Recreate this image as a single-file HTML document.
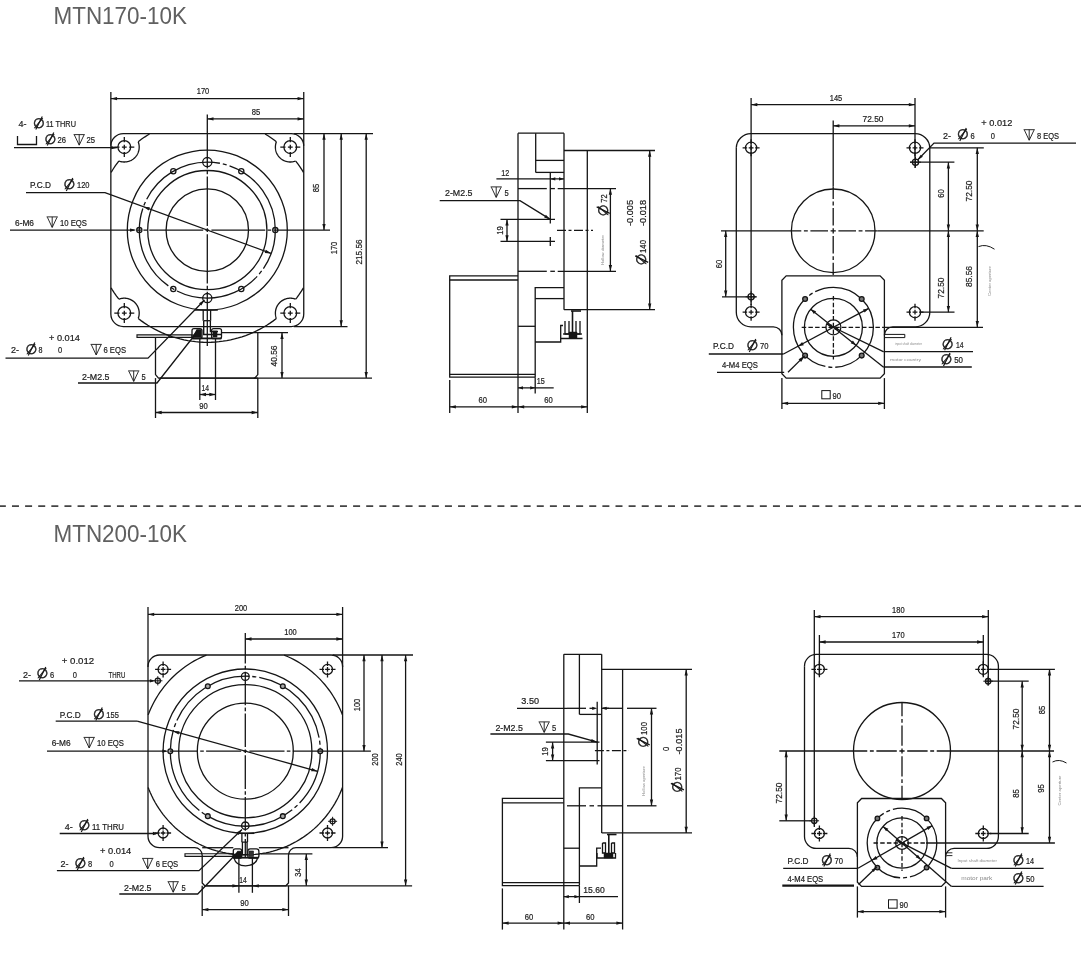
<!DOCTYPE html>
<html><head><meta charset="utf-8"><title>MTN170-10K / MTN200-10K</title>
<style>
html,body{margin:0;padding:0;background:#fff}
svg{display:block;will-change:transform;opacity:.999}
svg line,svg path,svg circle,svg polyline{stroke:#151515;stroke-width:1.3;fill:none}
svg .ah{fill:#151515;stroke:none}
svg text{stroke:none}
svg text.t{stroke:#1c1c1c}
.t{font-family:"Liberation Sans",sans-serif;font-size:9.6px;fill:#1c1c1c;stroke:#1c1c1c;stroke-width:.22px}
.s{font-family:"DejaVu Sans","Liberation Sans",sans-serif;fill:#1c1c1c}
.h{font-family:"Liberation Sans",sans-serif;font-size:24px;fill:#606060}
.g{font-family:"Liberation Sans",sans-serif;font-size:4.2px;fill:#8c8c8c}
.g2{font-family:"Liberation Sans",sans-serif;font-size:5.4px;fill:#8a8a8a}
</style></head><body>
<svg width="1081" height="966" viewBox="0 0 1081 966">
<rect x="0" y="0" width="1081" height="966" fill="#fff" stroke="none"/>
<text class="h" x="53.5" y="23.7" textLength="133.5" lengthAdjust="spacingAndGlyphs">MTN170-10K</text>
<text class="h" x="53.5" y="542.2" textLength="133.5" lengthAdjust="spacingAndGlyphs">MTN200-10K</text>
<line x1="0" y1="506.1" x2="1081" y2="506.1" style="stroke:#444;stroke-width:1.8" stroke-dasharray="7 6.12" stroke-dashoffset="1.15"/>
<path d="M123.35 133.65 H291.25 A12.5 12.5 0 0 1 303.75 146.15 V314.05 A12.5 12.5 0 0 1 291.25 326.55 H123.35 A12.5 12.5 0 0 1 110.85 314.05 V146.15 A12.5 12.5 0 0 1 123.35 133.65 Z"/>
<path d="M303.47 287.89 L301.4 291.21 L299.21 294.46 L296.91 297.62 L295.71 299.18"/>
<path d="M276.38 318.51 L273.25 320.87 L270.04 323.12 L266.76 325.25 L263.4 327.27 L259.97 329.17 L256.49 330.94 L252.94 332.6 L249.33 334.13 L245.67 335.53 L241.97 336.81 L238.23 337.95 L234.44 338.97 L230.63 339.85 L226.78 340.6 L222.92 341.21 L219.03 341.69 L215.13 342.03 L211.22 342.23 L207.3 342.3 L203.38 342.23 L199.47 342.03 L195.57 341.69 L191.68 341.21 L187.82 340.6 L183.97 339.85 L180.16 338.97 L176.37 337.95 L172.63 336.81 L168.93 335.53 L165.27 334.13 L161.66 332.6 L158.11 330.94 L154.63 329.17 L151.2 327.27 L147.84 325.25 L144.56 323.12 L141.35 320.87 L138.22 318.51"/>
<path d="M118.89 299.18 L116.53 296.05 L114.28 292.84 L112.15 289.56 L111.13 287.89"/>
<path d="M111.13 172.31 L113.2 168.99 L115.39 165.74 L117.69 162.58 L118.89 161.02"/>
<path d="M138.22 141.69 L141.35 139.33 L144.56 137.08 L147.84 134.95 L149.51 133.93"/>
<path d="M265.09 133.93 L268.41 136 L271.66 138.19 L274.82 140.49 L276.38 141.69"/>
<path d="M295.71 161.02 L298.07 164.15 L300.32 167.36 L302.45 170.64 L303.47 172.31"/>
<path d="M138.21 141.76 L138.39 142.25 L138.55 142.74 L138.69 143.24 L138.82 143.75 L138.93 144.26 L139.02 144.77 L139.09 145.28 L139.14 145.8 L139.18 146.32 L139.2 146.84 L139.2 147.23 L139.19 147.75 L139.15 148.27 L139.1 148.79 L139.04 149.3 L138.95 149.82 L138.85 150.32 L138.73 150.83 L138.59 151.33 L138.43 151.83 L138.26 152.32 L138.07 152.8 L137.86 153.28 L137.63 153.75 L137.39 154.21 L137.14 154.66 L136.87 155.11 L136.58 155.54 L136.28 155.96 L135.96 156.38 L135.63 156.78 L135.29 157.17 L134.93 157.54 L134.56 157.91 L134.17 158.26 L133.78 158.6 L133.37 158.92 L132.95 159.23 L132.52 159.52 L132.09 159.8 L131.64 160.07 L131.18 160.32 L130.71 160.55 L130.24 160.76 L129.76 160.96 L129.27 161.15 L128.78 161.31 L128.28 161.46 L127.78 161.59 L127.27 161.7 L126.76 161.8 L126.24 161.87 L125.73 161.93 L125.21 161.97 L124.69 161.99 L124.17 162 L123.65 161.99 L123.13 161.95 L122.61 161.9 L122.1 161.84 L121.58 161.75 L121.08 161.65 L120.57 161.53 L120.07 161.39 L119.57 161.23 L119.08 161.06 L118.96 161.01"/>
<circle cx="124.3" cy="147.1" r="6.4"/>
<line x1="114.3" y1="147.1" x2="134.3" y2="147.1" stroke-dasharray="5.2 2.4 4.8 2.4 5.2"/>
<line x1="124.3" y1="137.1" x2="124.3" y2="157.1" stroke-dasharray="5.2 2.4 4.8 2.4 5.2"/>
<path d="M118.96 299.19 L119.45 299.01 L119.94 298.85 L120.44 298.71 L120.95 298.58 L121.46 298.47 L121.97 298.38 L122.48 298.31 L123 298.26 L123.52 298.22 L124.04 298.2 L124.56 298.2 L125.08 298.22 L125.6 298.26 L126.12 298.31 L126.63 298.38 L127.14 298.47 L127.65 298.58 L128.16 298.71 L128.66 298.85 L129.15 299.01 L129.64 299.19 L130.12 299.38 L130.6 299.6 L131.06 299.82 L131.52 300.07 L131.97 300.33 L132.42 300.6 L132.85 300.89 L133.27 301.2 L133.68 301.52 L134.08 301.85 L134.46 302.2 L134.84 302.56 L135.2 302.94 L135.55 303.32 L135.88 303.72 L136.2 304.13 L136.51 304.55 L136.8 304.98 L137.07 305.43 L137.33 305.88 L137.58 306.34 L137.8 306.8 L138.02 307.28 L138.21 307.76 L138.39 308.25 L138.55 308.74 L138.69 309.24 L138.82 309.75 L138.93 310.26 L139.02 310.77 L139.09 311.28 L139.14 311.8 L139.18 312.32 L139.2 312.84 L139.2 313.23 L139.19 313.75 L139.15 314.27 L139.1 314.79 L139.04 315.3 L138.95 315.82 L138.85 316.32 L138.73 316.83 L138.59 317.33 L138.43 317.83 L138.26 318.32 L138.21 318.44"/>
<circle cx="124.3" cy="313.1" r="6.4"/>
<line x1="114.3" y1="313.1" x2="134.3" y2="313.1" stroke-dasharray="5.2 2.4 4.8 2.4 5.2"/>
<line x1="124.3" y1="303.1" x2="124.3" y2="323.1" stroke-dasharray="5.2 2.4 4.8 2.4 5.2"/>
<path d="M295.64 161.01 L295.15 161.19 L294.66 161.35 L294.16 161.49 L293.65 161.62 L293.14 161.73 L292.63 161.82 L292.12 161.89 L291.6 161.94 L291.08 161.98 L290.56 162 L290.04 162 L289.52 161.98 L289 161.94 L288.48 161.89 L287.97 161.82 L287.46 161.73 L286.95 161.62 L286.44 161.49 L285.94 161.35 L285.45 161.19 L284.96 161.01 L284.48 160.82 L284 160.6 L283.54 160.38 L283.08 160.13 L282.63 159.87 L282.18 159.6 L281.75 159.31 L281.33 159 L280.92 158.68 L280.52 158.35 L280.14 158 L279.76 157.64 L279.4 157.26 L279.05 156.88 L278.72 156.48 L278.4 156.07 L278.09 155.65 L277.8 155.22 L277.53 154.77 L277.27 154.32 L277.02 153.86 L276.8 153.4 L276.58 152.92 L276.39 152.44 L276.21 151.95 L276.05 151.46 L275.91 150.96 L275.78 150.45 L275.67 149.94 L275.58 149.43 L275.51 148.92 L275.46 148.4 L275.42 147.88 L275.4 147.36 L275.4 146.84 L275.42 146.32 L275.46 145.8 L275.51 145.28 L275.58 144.77 L275.67 144.26 L275.78 143.75 L275.91 143.24 L276.05 142.74 L276.21 142.25 L276.39 141.76"/>
<circle cx="290.3" cy="147.1" r="6.4"/>
<line x1="280.3" y1="147.1" x2="300.3" y2="147.1" stroke-dasharray="5.2 2.4 4.8 2.4 5.2"/>
<line x1="290.3" y1="137.1" x2="290.3" y2="157.1" stroke-dasharray="5.2 2.4 4.8 2.4 5.2"/>
<path d="M276.39 318.44 L276.21 317.95 L276.05 317.46 L275.91 316.96 L275.78 316.45 L275.67 315.94 L275.58 315.43 L275.51 314.92 L275.46 314.4 L275.42 313.88 L275.4 313.36 L275.4 312.84 L275.42 312.32 L275.46 311.8 L275.51 311.28 L275.58 310.77 L275.67 310.26 L275.78 309.75 L275.91 309.24 L276.05 308.74 L276.21 308.25 L276.39 307.76 L276.58 307.28 L276.8 306.8 L277.02 306.34 L277.27 305.88 L277.53 305.43 L277.8 304.98 L278.09 304.55 L278.4 304.13 L278.72 303.72 L279.05 303.32 L279.4 302.94 L279.76 302.56 L280.14 302.2 L280.52 301.85 L280.92 301.52 L281.33 301.2 L281.75 300.89 L282.18 300.6 L282.63 300.33 L283.08 300.07 L283.54 299.82 L284 299.6 L284.48 299.38 L284.96 299.19 L285.45 299.01 L285.94 298.85 L286.44 298.71 L286.95 298.58 L287.46 298.47 L287.97 298.38 L288.48 298.31 L289 298.26 L289.52 298.22 L290.04 298.2 L290.56 298.2 L291.08 298.22 L291.6 298.26 L292.12 298.31 L292.63 298.38 L293.14 298.47 L293.65 298.58 L294.16 298.71 L294.66 298.85 L295.15 299.01 L295.64 299.19"/>
<circle cx="290.3" cy="313.1" r="6.4"/>
<line x1="280.3" y1="313.1" x2="300.3" y2="313.1" stroke-dasharray="5.2 2.4 4.8 2.4 5.2"/>
<line x1="290.3" y1="303.1" x2="290.3" y2="323.1" stroke-dasharray="5.2 2.4 4.8 2.4 5.2"/>
<circle cx="207.3" cy="230.1" r="80"/>
<path d="M275.3 230.1 A68 68 0 1 0 139.3 230.1 A68 68 0 1 0 275.3 230.1" stroke-dasharray="87.3 3 4 3" stroke-dashoffset="3.3"/>
<circle cx="207.3" cy="230.1" r="59.6"/>
<circle cx="207.3" cy="230.1" r="41.2"/>
<circle cx="275.3" cy="230.1" r="2.6"/>
<circle cx="241.3" cy="288.99" r="2.6"/>
<circle cx="173.3" cy="288.99" r="2.6"/>
<circle cx="139.3" cy="230.1" r="2.6"/>
<circle cx="173.3" cy="171.21" r="2.6"/>
<circle cx="241.3" cy="171.21" r="2.6"/>
<circle cx="207.3" cy="162.1" r="4.6"/>
<circle cx="207.3" cy="298.1" r="4.6"/>
<line x1="207.3" y1="114.5" x2="207.3" y2="346" stroke-dasharray="53.9 2.3 3.6 2.3 49.4 2.3 3.6 2.3 49.3 2.3 3.6 2.3 54.3 0"/>
<line x1="137" y1="230.1" x2="330" y2="230.1" stroke-dasharray="4.1 2.3 3.6 2.3 53.9 2.3 3.6 2.3 53.9 2.3 3.6 2.3 56.5 0"/>
<line x1="110.85" y1="92" x2="110.85" y2="145.65"/>
<line x1="303.75" y1="92" x2="303.75" y2="145.65"/>
<line x1="110.85" y1="98.6" x2="303.75" y2="98.6"/>
<path class="ah" d="M110.85 98.6 L117.05 96.95 L117.05 100.25 Z"/>
<path class="ah" d="M303.75 98.6 L297.55 100.25 L297.55 96.95 Z"/>
<text class="t" x="196.75" y="94" textLength="12.5" lengthAdjust="spacingAndGlyphs">170</text>
<line x1="207.3" y1="118.9" x2="303.75" y2="118.9"/>
<path class="ah" d="M207.3 118.9 L213.5 117.25 L213.5 120.55 Z"/>
<path class="ah" d="M303.75 118.9 L297.55 120.55 L297.55 117.25 Z"/>
<text class="t" x="251.75" y="115.2" textLength="8.5" lengthAdjust="spacingAndGlyphs">85</text>
<line x1="293.75" y1="133.65" x2="373" y2="133.65"/>
<line x1="324" y1="133.65" x2="324" y2="230.1"/>
<path class="ah" d="M324 133.65 L325.65 139.85 L322.35 139.85 Z"/>
<path class="ah" d="M324 230.1 L322.35 223.9 L325.65 223.9 Z"/>
<text class="t" transform="translate(319.4 188) rotate(-90)" x="-4.25" y="0" textLength="8.5" lengthAdjust="spacingAndGlyphs">85</text>
<line x1="341.2" y1="133.65" x2="341.2" y2="326.55"/>
<path class="ah" d="M341.2 133.65 L342.85 139.85 L339.55 139.85 Z"/>
<path class="ah" d="M341.2 326.55 L339.55 320.35 L342.85 320.35 Z"/>
<text class="t" transform="translate(336.8 248) rotate(-90)" x="-6.25" y="0" textLength="12.5" lengthAdjust="spacingAndGlyphs">170</text>
<line x1="293.75" y1="326.55" x2="347.5" y2="326.55"/>
<line x1="366.2" y1="133.65" x2="366.2" y2="378.1"/>
<path class="ah" d="M366.2 133.65 L367.85 139.85 L364.55 139.85 Z"/>
<path class="ah" d="M366.2 378.1 L364.55 371.9 L367.85 371.9 Z"/>
<text class="t" transform="translate(362.1 252) rotate(-90)" x="-12.5" y="0" textLength="25" lengthAdjust="spacingAndGlyphs">215.56</text>
<path d="M155.5 337.4 L155.5 374.6 L158.5 378.1 L254.8 378.1 L257.8 374.6 L257.8 332.7"/>
<line x1="159.5" y1="378.1" x2="372" y2="378.1"/>
<line x1="253.8" y1="378.1" x2="257.8" y2="378.1"/>
<line x1="221.5" y1="332.7" x2="288" y2="332.7"/>
<line x1="282" y1="332.7" x2="282" y2="378.1"/>
<path class="ah" d="M282 332.7 L283.65 338.9 L280.35 338.9 Z"/>
<path class="ah" d="M282 378.1 L280.35 371.9 L283.65 371.9 Z"/>
<text class="t" transform="translate(276.7 356) rotate(-90)" x="-10.5" y="0" textLength="21" lengthAdjust="spacingAndGlyphs">40.56</text>
<line x1="199.8" y1="339" x2="199.8" y2="400"/>
<line x1="215.5" y1="339" x2="215.5" y2="400"/>
<line x1="199.8" y1="394.5" x2="215.5" y2="394.5"/>
<path class="ah" d="M199.8 394.5 L206 392.85 L206 396.15 Z"/>
<path class="ah" d="M215.5 394.5 L209.3 396.15 L209.3 392.85 Z"/>
<text class="t" x="201.45" y="391" textLength="7.5" lengthAdjust="spacingAndGlyphs">14</text>
<line x1="155.5" y1="378.1" x2="155.5" y2="418"/>
<line x1="257.8" y1="378.1" x2="257.8" y2="418"/>
<line x1="155.5" y1="412.5" x2="257.8" y2="412.5"/>
<path class="ah" d="M155.5 412.5 L161.7 410.85 L161.7 414.15 Z"/>
<path class="ah" d="M257.8 412.5 L251.6 414.15 L251.6 410.85 Z"/>
<text class="t" x="199.25" y="408.5" textLength="8.5" lengthAdjust="spacingAndGlyphs">90</text>
<line x1="195" y1="310" x2="217.8" y2="310" style="stroke-width:1.5"/>
<line x1="203.2" y1="310" x2="203.2" y2="320.7"/>
<line x1="210.6" y1="310" x2="210.6" y2="320.7"/>
<path d="M203.7 320.7 L203.7 334.5 L221 334.5" style="stroke-width:1.4;"/>
<path d="M210.4 320.7 L210.4 331.5 L218 331.5"/>
<line x1="203.7" y1="320.7" x2="210.4" y2="320.7"/>
<path d="M194 328.6 H200 A2 2 0 0 1 202 330.6 V336.7 A2 2 0 0 1 200 338.7 H194 A2 2 0 0 1 192 336.7 V330.6 A2 2 0 0 1 194 328.6 Z"/>
<path d="M213.6 328.6 H219.5 A2 2 0 0 1 221.5 330.6 V336.7 A2 2 0 0 1 219.5 338.7 H213.6 A2 2 0 0 1 211.6 336.7 V330.6 A2 2 0 0 1 213.6 328.6 Z"/>
<line x1="192" y1="338.4" x2="221.5" y2="338.4" style="stroke-width:1.8"/>
<path d="M193 337 L197 330 L201 330 L201 337 Z" style="fill:#151515;"/>
<path d="M213 331 L217 331 L217 337 L213 337 Z" style="fill:#151515;stroke-width:0.6;"/>
<path d="M137 334.8 L192 334.8 L192 337.4 L137 337.4 Z" style="stroke-width:1.15;"/>
<text class="t" x="18.5" y="127" textLength="8" lengthAdjust="spacingAndGlyphs">4-</text>
<g transform="translate(38.7 123.1)"><text class="s" font-size="13.5" x="-5.8" y="4.6" style="stroke:#1c1c1c;stroke-width:.45px">∅</text><line x1="-2.9" y1="6.4" x2="3.6" y2="-6.6" style="stroke-width:1.2"/></g>
<text class="t" x="46" y="127" textLength="30" lengthAdjust="spacingAndGlyphs">11 THRU</text>
<path d="M17.5 136 L17.5 144.5 L36.5 144.5 L36.5 136"/>
<g transform="translate(50.2 139.1)"><text class="s" font-size="13.5" x="-5.8" y="4.6" style="stroke:#1c1c1c;stroke-width:.45px">∅</text><line x1="-2.9" y1="6.4" x2="3.6" y2="-6.6" style="stroke-width:1.2"/></g>
<text class="t" x="57.5" y="143.2" textLength="8.5" lengthAdjust="spacingAndGlyphs">26</text>
<path d="M73.6 134.6 h11.2 M74.4 135 L79.2 145.2 L84 135 M79.2 134.6 v10.2" style="stroke-width:0.9;"/>
<text class="t" x="86.5" y="143.2" textLength="8.5" lengthAdjust="spacingAndGlyphs">25</text>
<line x1="14" y1="147.7" x2="117" y2="147.7"/>
<path class="ah" d="M117.4 147.7 L111.2 149.35 L111.2 146.05 Z"/>
<text class="t" x="30" y="188.2" textLength="21" lengthAdjust="spacingAndGlyphs">P.C.D</text>
<g transform="translate(69.2 184.6)"><text class="s" font-size="13.5" x="-5.8" y="4.6" style="stroke:#1c1c1c;stroke-width:.45px">∅</text><line x1="-2.9" y1="6.4" x2="3.6" y2="-6.6" style="stroke-width:1.2"/></g>
<text class="t" x="77" y="188.2" textLength="12.5" lengthAdjust="spacingAndGlyphs">120</text>
<path d="M26 192.6 L105 192.6 L271 253.4"/>
<path class="ah" d="M143.45 206.71 L149.84 207.3 L148.7 210.39 Z"/>
<path class="ah" d="M271.15 253.49 L264.76 252.9 L265.9 249.81 Z"/>
<text class="t" x="15" y="225.8" textLength="19" lengthAdjust="spacingAndGlyphs">6-M6</text>
<path d="M46.6 216.9 h11.2 M47.4 217.3 L52.2 227.5 L57 217.3 M52.2 216.9 v10.2" style="stroke-width:0.9;"/>
<text class="t" x="60" y="225.8" textLength="27" lengthAdjust="spacingAndGlyphs">10 EQS</text>
<line x1="10" y1="230.1" x2="134.5" y2="230.1"/>
<path class="ah" d="M136.2 230.1 L130 231.75 L130 228.45 Z"/>
<text class="t" x="49" y="340.8" textLength="31" lengthAdjust="spacingAndGlyphs">+ 0.014</text>
<text class="t" x="11" y="353" textLength="8" lengthAdjust="spacingAndGlyphs">2-</text>
<g transform="translate(31.2 349.1)"><text class="s" font-size="13.5" x="-5.8" y="4.6" style="stroke:#1c1c1c;stroke-width:.45px">∅</text><line x1="-2.9" y1="6.4" x2="3.6" y2="-6.6" style="stroke-width:1.2"/></g>
<text class="t" x="38.5" y="353" textLength="4" lengthAdjust="spacingAndGlyphs">8</text>
<text class="t" x="58" y="353" textLength="4.2" lengthAdjust="spacingAndGlyphs">0</text>
<path d="M90.6 344.4 h11.2 M91.4 344.8 L96.2 355 L101 344.8 M96.2 344.4 v10.2" style="stroke-width:0.9;"/>
<text class="t" x="103.5" y="353" textLength="22.5" lengthAdjust="spacingAndGlyphs">6 EQS</text>
<path d="M5.5 358.2 L148 358.2 L204.5 300"/>
<path class="ah" d="M204.5 300 L201.37 305.6 L199 303.3 Z"/>
<text class="t" x="82" y="379.5" textLength="27.5" lengthAdjust="spacingAndGlyphs">2-M2.5</text>
<path d="M128.1 370.9 h11.2 M128.9 371.3 L133.7 381.5 L138.5 371.3 M133.7 370.9 v10.2" style="stroke-width:0.9;"/>
<text class="t" x="141.5" y="379.5" textLength="4.2" lengthAdjust="spacingAndGlyphs">5</text>
<path d="M78 383 L157 383 L197.5 331.5"/>
<path class="ah" d="M197.5 331.5 L194.96 337.39 L192.37 335.35 Z"/>
<line x1="518" y1="133.2" x2="518" y2="413"/>
<line x1="518" y1="133.2" x2="564" y2="133.2"/>
<line x1="564" y1="133.2" x2="564" y2="309.7"/>
<line x1="535.7" y1="133.2" x2="535.7" y2="172.4"/>
<line x1="535.7" y1="160.4" x2="564" y2="160.4"/>
<line x1="535.7" y1="172.4" x2="564" y2="172.4"/>
<line x1="564" y1="150.5" x2="655" y2="150.5"/>
<line x1="587.3" y1="150.5" x2="587.3" y2="413"/>
<line x1="564" y1="309.7" x2="655" y2="309.7"/>
<line x1="649.7" y1="150.5" x2="649.7" y2="309.7"/>
<path class="ah" d="M649.7 150.5 L651.35 156.7 L648.05 156.7 Z"/>
<path class="ah" d="M649.7 309.7 L648.05 303.5 L651.35 303.5 Z"/>
<text class="t" transform="translate(646.2 213) rotate(-90)" x="-13" y="0" textLength="26" lengthAdjust="spacingAndGlyphs">-0.018</text>
<text class="t" transform="translate(633.4 213) rotate(-90)" x="-13" y="0" textLength="26" lengthAdjust="spacingAndGlyphs">-0.005</text>
<text class="t" transform="translate(645.7 246.5) rotate(-90)" x="-6.5" y="0" textLength="13" lengthAdjust="spacingAndGlyphs">140</text>
<g transform="translate(641.8 259.5) rotate(-90)"><text class="s" font-size="13.5" x="-5.8" y="4.6" style="stroke:#1c1c1c;stroke-width:.45px">∅</text><line x1="-2.9" y1="6.4" x2="3.6" y2="-6.6" style="stroke-width:1.2"/></g>
<line x1="518" y1="188.6" x2="546.8" y2="188.6"/>
<line x1="550.3" y1="188.6" x2="554.9" y2="188.6"/>
<line x1="557.7" y1="188.6" x2="616" y2="188.6"/>
<line x1="518" y1="271.3" x2="546.8" y2="271.3"/>
<line x1="550.3" y1="271.3" x2="554.9" y2="271.3"/>
<line x1="557.7" y1="271.3" x2="616" y2="271.3"/>
<line x1="610.4" y1="188.6" x2="610.4" y2="271.3"/>
<path class="ah" d="M610.4 188.6 L612.05 194.8 L608.75 194.8 Z"/>
<path class="ah" d="M610.4 271.3 L608.75 265.1 L612.05 265.1 Z"/>
<text class="t" transform="translate(606.9 198.5) rotate(-90)" x="-4.25" y="0" textLength="8.5" lengthAdjust="spacingAndGlyphs">72</text>
<g transform="translate(603.3 210.5) rotate(-90)"><text class="s" font-size="13.5" x="-5.8" y="4.6" style="stroke:#1c1c1c;stroke-width:.45px">∅</text><line x1="-2.9" y1="6.4" x2="3.6" y2="-6.6" style="stroke-width:1.2"/></g>
<text class="g" transform="translate(603.9 250) rotate(-90)" x="-15" y="0" textLength="30" lengthAdjust="spacingAndGlyphs">Hollow diameter</text>
<line x1="496.4" y1="178.9" x2="564" y2="178.9"/>
<path class="ah" d="M550.3 178.9 L555.3 177.25 L555.3 180.55 Z"/>
<path class="ah" d="M564 178.9 L559 180.55 L559 177.25 Z"/>
<text class="t" x="501.3" y="175.5" textLength="8" lengthAdjust="spacingAndGlyphs">12</text>
<line x1="550.3" y1="172.4" x2="550.3" y2="223.5"/>
<text class="t" x="445" y="195.5" textLength="27.5" lengthAdjust="spacingAndGlyphs">2-M2.5</text>
<path d="M490.6 186.9 h11.2 M491.4 187.3 L496.2 197.5 L501 187.3 M496.2 186.9 v10.2" style="stroke-width:0.9;"/>
<text class="t" x="504.5" y="195.5" textLength="4.2" lengthAdjust="spacingAndGlyphs">5</text>
<path d="M439.7 200.7 L520 200.7 L550.3 219.4"/>
<path class="ah" d="M550.3 219.4 L544.16 217.55 L545.89 214.74 Z"/>
<line x1="500.5" y1="219.4" x2="555" y2="219.4"/>
<line x1="500.5" y1="241.4" x2="555" y2="241.4"/>
<line x1="507" y1="219.4" x2="507" y2="241.4"/>
<path class="ah" d="M507 219.4 L508.65 225.6 L505.35 225.6 Z"/>
<path class="ah" d="M507 241.4 L505.35 235.2 L508.65 235.2 Z"/>
<text class="t" transform="translate(503.1 230.4) rotate(-90)" x="-4.25" y="0" textLength="8.5" lengthAdjust="spacingAndGlyphs">19</text>
<line x1="550.3" y1="237" x2="550.3" y2="246"/>
<line x1="557" y1="230.3" x2="593" y2="230.3" stroke-dasharray="9 2.5 3 2.5"/>
<path d="M518 275.9 L449.7 275.9 L449.7 377.2 L535.2 377.2"/>
<line x1="449.7" y1="280" x2="518" y2="280"/>
<line x1="449.7" y1="374.4" x2="535.2" y2="374.4"/>
<line x1="449.7" y1="380" x2="449.7" y2="413"/>
<path d="M564 287.7 L535.2 287.7 L535.2 377.2"/>
<line x1="535.2" y1="298.6" x2="564" y2="298.6"/>
<line x1="518" y1="326.3" x2="535.2" y2="326.3"/>
<path d="M535.2 342 L560.7 342 L560.7 325.5 L563 325.5"/>
<line x1="571" y1="311" x2="581" y2="311" style="stroke-width:1.6"/>
<line x1="572.5" y1="311" x2="572.5" y2="334" style="stroke-width:1.6"/>
<path d="M565 321 L565 334 L569 334 L569 321"/>
<path d="M576 321 L576 334 L580 334 L580 321"/>
<line x1="561" y1="338.5" x2="582.5" y2="338.5" style="stroke-width:1.5"/>
<line x1="563" y1="334" x2="582" y2="334"/>
<path d="M569 332 h8 v6 h-8 Z" style="fill:#151515;stroke-width:0.5;"/>
<line x1="449.7" y1="406.8" x2="518" y2="406.8"/>
<path class="ah" d="M449.7 406.8 L455.9 405.15 L455.9 408.45 Z"/>
<path class="ah" d="M518 406.8 L511.8 408.45 L511.8 405.15 Z"/>
<line x1="518" y1="406.8" x2="587.3" y2="406.8"/>
<path class="ah" d="M518 406.8 L524.2 405.15 L524.2 408.45 Z"/>
<path class="ah" d="M587.3 406.8 L581.1 408.45 L581.1 405.15 Z"/>
<text class="t" x="478.45" y="403.2" textLength="8.5" lengthAdjust="spacingAndGlyphs">60</text>
<text class="t" x="544.25" y="403.2" textLength="8.5" lengthAdjust="spacingAndGlyphs">60</text>
<line x1="535.2" y1="377.2" x2="535.2" y2="393.5"/>
<line x1="518" y1="387.8" x2="553.7" y2="387.8"/>
<path class="ah" d="M518 387.8 L523 386.15 L523 389.45 Z"/>
<path class="ah" d="M535.2 387.8 L530.2 389.45 L530.2 386.15 Z"/>
<text class="t" x="536.7" y="384.2" textLength="8" lengthAdjust="spacingAndGlyphs">15</text>
<path d="M736.3 147.8 A14.6 14.6 0 0 1 751.1 133.6 H915 A14.6 14.6 0 0 1 929.8 147.8 V312.2 A14.6 14.6 0 0 1 915 326.8 H892.9 A8.5 8.5 0 0 0 884.4 335.3"/>
<path d="M736.3 147.8 V312.2 A14.6 14.6 0 0 0 751.1 326.8 H773.4 A8.5 8.5 0 0 1 781.9 335.3"/>
<path d="M786.2 275.9 L880.1 275.9 L884.4 280.2 L884.4 373.8 L880.1 378.1 L786.2 378.1 L781.9 373.8 L781.9 280.2 Z"/>
<circle cx="833.2" cy="230.8" r="41.8"/>
<circle cx="751.1" cy="147.8" r="5.6"/>
<line x1="742.6" y1="147.8" x2="759.6" y2="147.8" stroke-dasharray="4.5 1.6 4.8 1.6 4.5"/>
<line x1="751.1" y1="139.3" x2="751.1" y2="156.3" stroke-dasharray="4.5 1.6 4.8 1.6 4.5"/>
<circle cx="915" cy="147.8" r="5.6"/>
<line x1="906.5" y1="147.8" x2="923.5" y2="147.8" stroke-dasharray="4.5 1.6 4.8 1.6 4.5"/>
<line x1="915" y1="139.3" x2="915" y2="156.3" stroke-dasharray="4.5 1.6 4.8 1.6 4.5"/>
<circle cx="751.1" cy="312.2" r="5.6"/>
<line x1="742.6" y1="312.2" x2="759.6" y2="312.2" stroke-dasharray="4.5 1.6 4.8 1.6 4.5"/>
<line x1="751.1" y1="303.7" x2="751.1" y2="320.7" stroke-dasharray="4.5 1.6 4.8 1.6 4.5"/>
<circle cx="915" cy="312.2" r="5.6"/>
<line x1="906.5" y1="312.2" x2="923.5" y2="312.2" stroke-dasharray="4.5 1.6 4.8 1.6 4.5"/>
<line x1="915" y1="303.7" x2="915" y2="320.7" stroke-dasharray="4.5 1.6 4.8 1.6 4.5"/>
<circle cx="915.5" cy="162.2" r="3.1"/>
<line x1="910" y1="162.2" x2="921" y2="162.2" style="stroke-width:1"/>
<line x1="915.5" y1="156.7" x2="915.5" y2="167.7" style="stroke-width:1"/>
<circle cx="751.1" cy="296.8" r="3.1"/>
<line x1="745.6" y1="296.8" x2="756.6" y2="296.8" style="stroke-width:1"/>
<line x1="751.1" y1="291.3" x2="751.1" y2="302.3" style="stroke-width:1"/>
<line x1="833.2" y1="186.6" x2="833.2" y2="275" stroke-dasharray="12.3 2.6 3.9 2.6 17.6 2.6 5.2 2.6 17.6 2.6 3.9 2.6 12.3"/>
<line x1="833.2" y1="120.4" x2="833.2" y2="186.6"/>
<line x1="789" y1="230.8" x2="877.4" y2="230.8" stroke-dasharray="12.3 2.6 3.9 2.6 17.6 2.6 5.2 2.6 17.6 2.6 3.9 2.6 12.3"/>
<line x1="721" y1="230.8" x2="789" y2="230.8"/>
<line x1="877.4" y1="230.8" x2="983.7" y2="230.8"/>
<line x1="751.1" y1="98" x2="751.1" y2="305"/>
<line x1="915" y1="98" x2="915" y2="168"/>
<line x1="751.1" y1="104.7" x2="915" y2="104.7"/>
<path class="ah" d="M751.1 104.7 L757.3 103.05 L757.3 106.35 Z"/>
<path class="ah" d="M915 104.7 L908.8 106.35 L908.8 103.05 Z"/>
<text class="t" x="829.75" y="100.5" textLength="12.5" lengthAdjust="spacingAndGlyphs">145</text>
<line x1="833.2" y1="125.8" x2="915" y2="125.8"/>
<path class="ah" d="M833.2 125.8 L839.4 124.15 L839.4 127.45 Z"/>
<path class="ah" d="M915 125.8 L908.8 127.45 L908.8 124.15 Z"/>
<text class="t" x="862.5" y="122.3" textLength="21" lengthAdjust="spacingAndGlyphs">72.50</text>
<line x1="929.8" y1="147.8" x2="983.8" y2="147.8"/>
<line x1="910" y1="162.2" x2="954.4" y2="162.2"/>
<line x1="977.3" y1="147.8" x2="977.3" y2="230.8"/>
<path class="ah" d="M977.3 147.8 L978.95 154 L975.65 154 Z"/>
<path class="ah" d="M977.3 230.8 L975.65 224.6 L978.95 224.6 Z"/>
<text class="t" transform="translate(972 191) rotate(-90)" x="-10.5" y="0" textLength="21" lengthAdjust="spacingAndGlyphs">72.50</text>
<line x1="948.4" y1="162.2" x2="948.4" y2="230.8"/>
<path class="ah" d="M948.4 162.2 L950.05 168.4 L946.75 168.4 Z"/>
<path class="ah" d="M948.4 230.8 L946.75 224.6 L950.05 224.6 Z"/>
<text class="t" transform="translate(944.1 193.5) rotate(-90)" x="-4.25" y="0" textLength="8.5" lengthAdjust="spacingAndGlyphs">60</text>
<line x1="921" y1="312.2" x2="954.5" y2="312.2"/>
<line x1="948.4" y1="230.8" x2="948.4" y2="312.2"/>
<path class="ah" d="M948.4 230.8 L950.05 237 L946.75 237 Z"/>
<path class="ah" d="M948.4 312.2 L946.75 306 L950.05 306 Z"/>
<text class="t" transform="translate(944.1 288) rotate(-90)" x="-10.5" y="0" textLength="21" lengthAdjust="spacingAndGlyphs">72.50</text>
<line x1="884" y1="327.3" x2="983" y2="327.3"/>
<line x1="977.3" y1="230.8" x2="977.3" y2="327.3"/>
<path class="ah" d="M977.3 230.8 L978.95 237 L975.65 237 Z"/>
<path class="ah" d="M977.3 327.3 L975.65 321.1 L978.95 321.1 Z"/>
<text class="t" transform="translate(972 276.5) rotate(-90)" x="-10.5" y="0" textLength="21" lengthAdjust="spacingAndGlyphs">85.56</text>
<path d="M978.5 246.6 Q986 243.5 994.5 249.2" style="stroke-width:1;"/>
<text class="g" transform="translate(990.7 281) rotate(-90)" x="-15" y="0" textLength="30" lengthAdjust="spacingAndGlyphs">Center aperture</text>
<line x1="722" y1="296.8" x2="756.5" y2="296.8"/>
<line x1="725.7" y1="230.8" x2="725.7" y2="296.8"/>
<path class="ah" d="M725.7 230.8 L727.35 237 L724.05 237 Z"/>
<path class="ah" d="M725.7 296.8 L724.05 290.6 L727.35 290.6 Z"/>
<text class="t" transform="translate(722.2 264) rotate(-90)" x="-4.25" y="0" textLength="8.5" lengthAdjust="spacingAndGlyphs">60</text>
<path d="M1076 143.1 L934 143.1 L917.6 160"/>
<path class="ah" d="M917.6 160 L920.7 154.65 L922.85 156.74 Z"/>
<text class="t" x="943" y="138.5" textLength="8" lengthAdjust="spacingAndGlyphs">2-</text>
<g transform="translate(962.7 134.6)"><text class="s" font-size="13.5" x="-5.8" y="4.6" style="stroke:#1c1c1c;stroke-width:.45px">∅</text><line x1="-2.9" y1="6.4" x2="3.6" y2="-6.6" style="stroke-width:1.2"/></g>
<text class="t" x="970.5" y="138.5" textLength="4.2" lengthAdjust="spacingAndGlyphs">6</text>
<text class="t" x="981.3" y="126.2" textLength="31" lengthAdjust="spacingAndGlyphs">+ 0.012</text>
<text class="t" x="990.8" y="138.5" textLength="4.2" lengthAdjust="spacingAndGlyphs">0</text>
<path d="M1023.6 129.7 h11.2 M1024.4 130.1 L1029.2 140.3 L1034 130.1 M1029.2 129.7 v10.2" style="stroke-width:0.9;"/>
<text class="t" x="1037" y="138.5" textLength="22" lengthAdjust="spacingAndGlyphs">8 EQS</text>
<path d="M873.4 327.3 A40 40 0 1 0 793.4 327.3 A40 40 0 1 0 873.4 327.3" stroke-dasharray="88.5 3 4 3" stroke-dashoffset="6.9"/>
<circle cx="833.4" cy="327.3" r="29"/>
<circle cx="833.4" cy="327.3" r="7.5"/>
<circle cx="805.1" cy="299" r="2.4" style="fill:#777;"/>
<circle cx="805.1" cy="355.6" r="2.4" style="fill:#777;"/>
<circle cx="861.7" cy="299" r="2.4" style="fill:#777;"/>
<circle cx="861.7" cy="355.6" r="2.4" style="fill:#777;"/>
<line x1="833.4" y1="296" x2="833.4" y2="359.5" stroke-dasharray="4.5 2.2"/>
<line x1="801.7" y1="327.3" x2="884" y2="327.3" stroke-dasharray="4.5 2.2"/>
<text class="t" x="713" y="349.3" textLength="21" lengthAdjust="spacingAndGlyphs">P.C.D</text>
<g transform="translate(752.2 345.6)"><text class="s" font-size="13.5" x="-5.8" y="4.6" style="stroke:#1c1c1c;stroke-width:.45px">∅</text><line x1="-2.9" y1="6.4" x2="3.6" y2="-6.6" style="stroke-width:1.2"/></g>
<text class="t" x="760" y="349.3" textLength="8.5" lengthAdjust="spacingAndGlyphs">70</text>
<line x1="708.8" y1="354" x2="783.5" y2="354"/>
<line x1="783.5" y1="354" x2="868.67" y2="308.43"/>
<path class="ah" d="M868.67 308.43 L864.67 312.61 L862.97 309.44 Z"/>
<path class="ah" d="M798.13 346.17 L802.13 341.99 L803.83 345.16 Z"/>
<text class="t" x="722" y="368" textLength="36" lengthAdjust="spacingAndGlyphs">4-M4 EQS</text>
<line x1="717" y1="372.3" x2="784.2" y2="372.3"/>
<line x1="788" y1="372.3" x2="804.6" y2="355.9"/>
<path class="ah" d="M804.8 355.7 L801.09 361.9 L798.56 359.34 Z"/>
<g transform="translate(947.5 343.9)"><text class="s" font-size="13.5" x="-5.8" y="4.6" style="stroke:#1c1c1c;stroke-width:.45px">∅</text><line x1="-2.9" y1="6.4" x2="3.6" y2="-6.6" style="stroke-width:1.2"/></g>
<text class="t" x="955.9" y="348" textLength="7.6" lengthAdjust="spacingAndGlyphs">14</text>
<line x1="883.3" y1="351.6" x2="973" y2="351.6"/>
<line x1="883.3" y1="351.6" x2="826.66" y2="324.02"/>
<path class="ah" d="M826.66 324.02 L832.39 324.81 L830.81 328.04 Z"/>
<path class="ah" d="M840.14 330.58 L834.41 329.79 L835.99 326.56 Z"/>
<g transform="translate(946.4 359.6)"><text class="s" font-size="13.5" x="-5.8" y="4.6" style="stroke:#1c1c1c;stroke-width:.45px">∅</text><line x1="-2.9" y1="6.4" x2="3.6" y2="-6.6" style="stroke-width:1.2"/></g>
<text class="t" x="954.2" y="363.4" textLength="8.8" lengthAdjust="spacingAndGlyphs">50</text>
<line x1="883.3" y1="367" x2="971.8" y2="367"/>
<line x1="883.3" y1="367" x2="810.71" y2="309.24"/>
<path class="ah" d="M810.71 309.24 L816.13 311.26 L813.89 314.08 Z"/>
<path class="ah" d="M856.09 345.36 L850.67 343.34 L852.91 340.52 Z"/>
<text class="g" x="895" y="344.5" textLength="27" lengthAdjust="spacingAndGlyphs">input shaft diameter</text>
<text class="g" x="890" y="360.5" textLength="31" lengthAdjust="spacingAndGlyphs">motor country</text>
<path d="M884.6 334.4 L904.8 334.4 L904.8 337.6 L884.6 337.6" style="stroke-width:1;"/>
<line x1="781.9" y1="378.1" x2="781.9" y2="409"/>
<line x1="884.4" y1="378.1" x2="884.4" y2="409"/>
<line x1="781.9" y1="403.3" x2="884.4" y2="403.3"/>
<path class="ah" d="M781.9 403.3 L788.1 401.65 L788.1 404.95 Z"/>
<path class="ah" d="M884.4 403.3 L878.2 404.95 L878.2 401.65 Z"/>
<rect x="821.8" y="390.6" width="8.4" height="8.2" style="fill:none;stroke:#151515;stroke-width:1"/>
<text class="t" x="832.6" y="399" textLength="8.5" lengthAdjust="spacingAndGlyphs">90</text>
<path d="M148 836.2 V666.5 A11.5 11.5 0 0 1 159.5 655 H331.1 A11.5 11.5 0 0 1 342.6 666.5 V836.2 A11.5 11.5 0 0 1 331.1 847.7 H296 A7.5 7.5 0 0 0 288.5 855.2 V883 L285.9 885.8 H204.8 L202.2 883 V855.2 A7.5 7.5 0 0 0 194.7 847.7 H159.5 A11.5 11.5 0 0 1 148 836.2 Z"/>
<path d="M342.43 787.52 L341.11 790.88 L339.66 794.2 L338.1 797.47 L336.43 800.68 L334.65 803.83 L332.76 806.92 L330.76 809.94 L328.66 812.88 L326.46 815.75 L324.15 818.55 L321.76 821.26 L319.26 823.88 L316.68 826.42 L314.01 828.87 L311.26 831.22 L308.43 833.47 L305.52 835.62 L302.54 837.67 L299.48 839.62 L296.36 841.46 L293.18 843.18 L289.94 844.8 L286.65 846.3 L283.31 847.68 L279.92 848.95 L276.48 850.1 L273.01 851.13 L269.51 852.03 L265.97 852.82 L262.42 853.48 L258.84 854.01 L255.24 854.42 L251.63 854.71 L248.01 854.86 L244.4 854.9 L240.78 854.8 L237.16 854.58 L233.56 854.23 L229.97 853.76 L226.4 853.16 L222.86 852.44 L219.34 851.6 L215.85 850.63 L212.4 849.54 L208.98 848.33 L205.62 847.01 L202.3 845.56 L199.03 844 L195.82 842.33 L192.67 840.55 L189.58 838.66 L186.56 836.66 L183.62 834.56 L180.75 832.36 L177.95 830.05 L175.24 827.66 L172.62 825.16 L170.08 822.58 L167.63 819.91 L165.28 817.16 L163.03 814.33 L160.88 811.42 L158.83 808.44 L156.88 805.38 L155.04 802.26 L153.32 799.08 L151.7 795.84 L150.2 792.55 L148.82 789.21 L148.17 787.52"/>
<path d="M148.17 714.88 L149.49 711.52 L150.94 708.2 L152.5 704.93 L154.17 701.72 L155.95 698.57 L157.84 695.48 L159.84 692.46 L161.94 689.52 L164.14 686.65 L166.45 683.85 L168.84 681.14 L171.34 678.52 L173.92 675.98 L176.59 673.53 L179.34 671.18 L182.17 668.93 L185.08 666.78 L188.06 664.73 L191.12 662.78 L194.24 660.94 L197.42 659.22 L200.66 657.6 L203.95 656.1 L206.45 655.05"/>
<path d="M284.15 655.05 L287.48 656.47 L290.76 658 L293.98 659.64 L297.15 661.39 L300.25 663.26 L303.29 665.23 L306.25 667.3 L309.14 669.48 L311.96 671.76 L314.69 674.14 L317.34 676.6 L319.9 679.16 L322.36 681.81 L324.74 684.54 L327.02 687.36 L329.2 690.25 L331.27 693.21 L333.24 696.25 L335.11 699.35 L336.86 702.52 L338.5 705.74 L340.03 709.02 L341.45 712.35 L342.43 714.88"/>
<circle cx="163.1" cy="669.4" r="5"/>
<line x1="155.1" y1="669.4" x2="171.1" y2="669.4" stroke-dasharray="4.6 1 4.8 1 4.6"/>
<line x1="163.1" y1="661.4" x2="163.1" y2="677.4" stroke-dasharray="4.6 1 4.8 1 4.6"/>
<circle cx="163.1" cy="833" r="5"/>
<line x1="155.1" y1="833" x2="171.1" y2="833" stroke-dasharray="4.6 1 4.8 1 4.6"/>
<line x1="163.1" y1="825" x2="163.1" y2="841" stroke-dasharray="4.6 1 4.8 1 4.6"/>
<circle cx="327.5" cy="669.4" r="5"/>
<line x1="319.5" y1="669.4" x2="335.5" y2="669.4" stroke-dasharray="4.6 1 4.8 1 4.6"/>
<line x1="327.5" y1="661.4" x2="327.5" y2="677.4" stroke-dasharray="4.6 1 4.8 1 4.6"/>
<circle cx="327.5" cy="833" r="5"/>
<line x1="319.5" y1="833" x2="335.5" y2="833" stroke-dasharray="4.6 1 4.8 1 4.6"/>
<line x1="327.5" y1="825" x2="327.5" y2="841" stroke-dasharray="4.6 1 4.8 1 4.6"/>
<circle cx="157.8" cy="680.8" r="2.6"/>
<line x1="153.2" y1="680.8" x2="162.4" y2="680.8" style="stroke-width:1"/>
<line x1="157.8" y1="676.2" x2="157.8" y2="685.4" style="stroke-width:1"/>
<circle cx="332.6" cy="821.3" r="2.5"/>
<line x1="328.1" y1="821.3" x2="337.1" y2="821.3" style="stroke-width:1"/>
<line x1="332.6" y1="816.8" x2="332.6" y2="825.8" style="stroke-width:1"/>
<circle cx="245.3" cy="751.2" r="82.2"/>
<path d="M320.3 751.2 A75 75 0 1 0 170.3 751.2 A75 75 0 1 0 320.3 751.2" stroke-dasharray="90 3 4 3" stroke-dashoffset="-13.6"/>
<circle cx="245.3" cy="751.2" r="66.6"/>
<circle cx="245.3" cy="751.2" r="48"/>
<circle cx="320.3" cy="751.2" r="2.4" style="fill:#aaa;"/>
<circle cx="282.8" cy="816.15" r="2.4" style="fill:#aaa;"/>
<circle cx="207.8" cy="816.15" r="2.4" style="fill:#aaa;"/>
<circle cx="170.3" cy="751.2" r="2.4" style="fill:#aaa;"/>
<circle cx="207.8" cy="686.25" r="2.4" style="fill:#aaa;"/>
<circle cx="282.8" cy="686.25" r="2.4" style="fill:#aaa;"/>
<circle cx="245.3" cy="676.5" r="3.9"/>
<circle cx="245.3" cy="825.7" r="3.7"/>
<line x1="245.3" y1="633" x2="245.3" y2="858" stroke-dasharray="30.5 2.3 3.6 2.3 33.6 2.3 3.6 2.3 33.6 2.3 3.6 2.3 33.6 2.3 3.6 2.3 33.6 2.3 3.6 2.3 19.1 0"/>
<line x1="170" y1="751.2" x2="370.9" y2="751.2" stroke-dasharray="27.9 2.3 3.6 2.3 35.1 2.3 3.6 2.3 35.1 2.3 3.6 2.3 78.2 0"/>
<line x1="148" y1="607" x2="148" y2="667"/>
<line x1="342.6" y1="607" x2="342.6" y2="667"/>
<line x1="148" y1="614.4" x2="342.6" y2="614.4"/>
<path class="ah" d="M148 614.4 L154.2 612.75 L154.2 616.05 Z"/>
<path class="ah" d="M342.6 614.4 L336.4 616.05 L336.4 612.75 Z"/>
<text class="t" x="234.75" y="610.8" textLength="12.5" lengthAdjust="spacingAndGlyphs">200</text>
<line x1="245.3" y1="639" x2="342.6" y2="639"/>
<path class="ah" d="M245.3 639 L251.5 637.35 L251.5 640.65 Z"/>
<path class="ah" d="M342.6 639 L336.4 640.65 L336.4 637.35 Z"/>
<text class="t" x="284.25" y="635.3" textLength="12.5" lengthAdjust="spacingAndGlyphs">100</text>
<line x1="332.6" y1="655" x2="413" y2="655"/>
<line x1="364" y1="655" x2="364" y2="751.2"/>
<path class="ah" d="M364 655 L365.65 661.2 L362.35 661.2 Z"/>
<path class="ah" d="M364 751.2 L362.35 745 L365.65 745 Z"/>
<text class="t" transform="translate(360.4 705) rotate(-90)" x="-6.25" y="0" textLength="12.5" lengthAdjust="spacingAndGlyphs">100</text>
<line x1="382" y1="655" x2="382" y2="847.7"/>
<path class="ah" d="M382 655 L383.65 661.2 L380.35 661.2 Z"/>
<path class="ah" d="M382 847.7 L380.35 841.5 L383.65 841.5 Z"/>
<text class="t" transform="translate(378.2 759.5) rotate(-90)" x="-6.25" y="0" textLength="12.5" lengthAdjust="spacingAndGlyphs">200</text>
<line x1="332.6" y1="847.7" x2="388" y2="847.7"/>
<line x1="405.6" y1="655" x2="405.6" y2="885.8"/>
<path class="ah" d="M405.6 655 L407.25 661.2 L403.95 661.2 Z"/>
<path class="ah" d="M405.6 885.8 L403.95 879.6 L407.25 879.6 Z"/>
<text class="t" transform="translate(402.1 759.5) rotate(-90)" x="-6.25" y="0" textLength="12.5" lengthAdjust="spacingAndGlyphs">240</text>
<line x1="204.8" y1="885.8" x2="412.1" y2="885.8"/>
<line x1="261.1" y1="853.9" x2="312.4" y2="853.9"/>
<line x1="306.3" y1="853.9" x2="306.3" y2="885.8"/>
<path class="ah" d="M306.3 853.9 L307.95 860.1 L304.65 860.1 Z"/>
<path class="ah" d="M306.3 885.8 L304.65 879.6 L307.95 879.6 Z"/>
<text class="t" transform="translate(301.4 872.5) rotate(-90)" x="-4.25" y="0" textLength="8.5" lengthAdjust="spacingAndGlyphs">34</text>
<line x1="238.9" y1="858" x2="238.9" y2="892.8"/>
<line x1="252.4" y1="858" x2="252.4" y2="892.8"/>
<path class="ah" d="M238.9 885.8 L232.4 887.45 L232.4 884.15 Z"/>
<path class="ah" d="M252.4 885.8 L258.9 884.15 L258.9 887.45 Z"/>
<text class="t" x="239.25" y="883" textLength="7.5" lengthAdjust="spacingAndGlyphs">14</text>
<line x1="202.2" y1="885.8" x2="202.2" y2="916"/>
<line x1="288.5" y1="885.8" x2="288.5" y2="916"/>
<line x1="202.2" y1="909.6" x2="288.5" y2="909.6"/>
<path class="ah" d="M202.2 909.6 L208.4 907.95 L208.4 911.25 Z"/>
<path class="ah" d="M288.5 909.6 L282.3 911.25 L282.3 907.95 Z"/>
<text class="t" x="240.25" y="906.3" textLength="8.5" lengthAdjust="spacingAndGlyphs">90</text>
<line x1="202.2" y1="847.7" x2="233.3" y2="847.7"/>
<line x1="258.9" y1="847.7" x2="288.5" y2="847.7"/>
<line x1="238.9" y1="833.3" x2="254.4" y2="833.3" style="stroke-width:1.5"/>
<line x1="241.9" y1="833.3" x2="241.9" y2="842.2"/>
<line x1="247.5" y1="833.3" x2="247.5" y2="842.2"/>
<path d="M242.4 842.2 L242.4 854.6 L247.1 854.6 L247.1 842.2 Z"/>
<path d="M235.3 848.9 H239.7 A2 2 0 0 1 241.7 850.9 V856.2 A2 2 0 0 1 239.7 858.2 H235.3 A2 2 0 0 1 233.3 856.2 V850.9 A2 2 0 0 1 235.3 848.9 Z"/>
<path d="M250.3 848.9 H256.4 A2.5 2.5 0 0 1 258.9 851.4 V855.7 A2.5 2.5 0 0 1 256.4 858.2 H250.3 A2.5 2.5 0 0 1 247.8 855.7 V851.4 A2.5 2.5 0 0 1 250.3 848.9 Z"/>
<path d="M233.9 857.8 Q236 865.8 245.6 865.8 Q255.5 865.8 257.8 857.8"/>
<line x1="233.3" y1="857.7" x2="258.5" y2="857.7" style="stroke-width:1.8"/>
<path d="M234.5 857 L237.5 851.3 L241 851.3 L241 857 Z" style="fill:#151515;stroke-width:0.8;"/>
<path d="M249 851 L253.5 851 L253.5 856.5 L249 856.5 Z" style="fill:#333;stroke-width:0.6;"/>
<path d="M185 853.7 L233.3 853.7 L233.3 856.3 L185 856.3 Z" style="stroke-width:1.15;"/>
<text class="t" x="61.7" y="663.5" textLength="32.5" lengthAdjust="spacingAndGlyphs">+ 0.012</text>
<text class="t" x="23" y="677.5" textLength="8" lengthAdjust="spacingAndGlyphs">2-</text>
<g transform="translate(42.2 673.6)"><text class="s" font-size="13.5" x="-5.8" y="4.6" style="stroke:#1c1c1c;stroke-width:.45px">∅</text><line x1="-2.9" y1="6.4" x2="3.6" y2="-6.6" style="stroke-width:1.2"/></g>
<text class="t" x="50" y="677.5" textLength="4.2" lengthAdjust="spacingAndGlyphs">6</text>
<text class="t" x="72.8" y="677.5" textLength="4.2" lengthAdjust="spacingAndGlyphs">0</text>
<text class="t" x="108.6" y="677.5" textLength="16.7" lengthAdjust="spacingAndGlyphs">THRU</text>
<line x1="19" y1="680.8" x2="153" y2="680.8"/>
<path class="ah" d="M155.3 680.8 L149.8 682.45 L149.8 679.15 Z"/>
<text class="t" x="59.7" y="718" textLength="21" lengthAdjust="spacingAndGlyphs">P.C.D</text>
<g transform="translate(98.7 714.1)"><text class="s" font-size="13.5" x="-5.8" y="4.6" style="stroke:#1c1c1c;stroke-width:.45px">∅</text><line x1="-2.9" y1="6.4" x2="3.6" y2="-6.6" style="stroke-width:1.2"/></g>
<text class="t" x="106.3" y="718" textLength="12.5" lengthAdjust="spacingAndGlyphs">155</text>
<path d="M55.7 721.2 L137.2 721.2"/>
<line x1="137.2" y1="721.2" x2="317.57" y2="771.26"/>
<path class="ah" d="M173.03 731.14 L179.45 731.21 L178.56 734.39 Z"/>
<path class="ah" d="M317.57 771.26 L311.15 771.19 L312.04 768.01 Z"/>
<text class="t" x="51.7" y="746.3" textLength="19" lengthAdjust="spacingAndGlyphs">6-M6</text>
<path d="M83.6 737.4 h11.2 M84.4 737.8 L89.2 748 L94 737.8 M89.2 737.4 v10.2" style="stroke-width:0.9;"/>
<text class="t" x="97" y="746.3" textLength="27" lengthAdjust="spacingAndGlyphs">10 EQS</text>
<line x1="47" y1="751.2" x2="166.5" y2="751.2"/>
<path class="ah" d="M167.8 751.2 L162.3 752.85 L162.3 749.55 Z"/>
<text class="t" x="64.8" y="829.6" textLength="8" lengthAdjust="spacingAndGlyphs">4-</text>
<g transform="translate(84.2 825.6)"><text class="s" font-size="13.5" x="-5.8" y="4.6" style="stroke:#1c1c1c;stroke-width:.45px">∅</text><line x1="-2.9" y1="6.4" x2="3.6" y2="-6.6" style="stroke-width:1.2"/></g>
<text class="t" x="92" y="829.6" textLength="32" lengthAdjust="spacingAndGlyphs">11 THRU</text>
<line x1="59.7" y1="833.5" x2="156" y2="833.5"/>
<path class="ah" d="M158.4 833.5 L152.9 835.15 L152.9 831.85 Z"/>
<text class="t" x="100" y="854.3" textLength="31.3" lengthAdjust="spacingAndGlyphs">+ 0.014</text>
<text class="t" x="60.5" y="867.4" textLength="8" lengthAdjust="spacingAndGlyphs">2-</text>
<g transform="translate(80.2 863.6)"><text class="s" font-size="13.5" x="-5.8" y="4.6" style="stroke:#1c1c1c;stroke-width:.45px">∅</text><line x1="-2.9" y1="6.4" x2="3.6" y2="-6.6" style="stroke-width:1.2"/></g>
<text class="t" x="88" y="867.4" textLength="4.2" lengthAdjust="spacingAndGlyphs">8</text>
<text class="t" x="109.5" y="867.4" textLength="4.2" lengthAdjust="spacingAndGlyphs">0</text>
<path d="M142.1 858.4 h11.2 M142.9 858.8 L147.7 869 L152.5 858.8 M147.7 858.4 v10.2" style="stroke-width:0.9;"/>
<text class="t" x="155.7" y="867.4" textLength="22.5" lengthAdjust="spacingAndGlyphs">6 EQS</text>
<path d="M56.9 870.6 L199 870.6 L242 829.5"/>
<path class="ah" d="M242 829.5 L238.66 834.98 L236.38 832.59 Z"/>
<text class="t" x="124" y="890.5" textLength="27.5" lengthAdjust="spacingAndGlyphs">2-M2.5</text>
<path d="M167.6 881.7 h11.2 M168.4 882.1 L173.2 892.3 L178 882.1 M173.2 881.7 v10.2" style="stroke-width:0.9;"/>
<text class="t" x="181.5" y="890.5" textLength="4.2" lengthAdjust="spacingAndGlyphs">5</text>
<path d="M119.3 894 L197.7 894 L237 853"/>
<path class="ah" d="M237 853 L233.9 858.62 L231.52 856.33 Z"/>
<line x1="563.8" y1="654.3" x2="563.8" y2="929.6"/>
<line x1="563.8" y1="654.3" x2="601.7" y2="654.3"/>
<line x1="601.7" y1="654.3" x2="601.7" y2="832.9"/>
<line x1="579.4" y1="654.3" x2="579.4" y2="714.4"/>
<line x1="579.4" y1="714.4" x2="601.7" y2="714.4"/>
<line x1="601.7" y1="669.3" x2="692" y2="669.3"/>
<line x1="622.6" y1="669.3" x2="622.6" y2="929.6"/>
<line x1="601.7" y1="832.9" x2="692" y2="832.9"/>
<line x1="686.2" y1="669.3" x2="686.2" y2="832.9"/>
<path class="ah" d="M686.2 669.3 L687.85 675.5 L684.55 675.5 Z"/>
<path class="ah" d="M686.2 832.9 L684.55 826.7 L687.85 826.7 Z"/>
<text class="t" transform="translate(681.7 741.5) rotate(-90)" x="-13" y="0" textLength="26" lengthAdjust="spacingAndGlyphs">-0.015</text>
<text class="t" transform="translate(669 749) rotate(-90)" x="-2.1" y="0" textLength="4.2" lengthAdjust="spacingAndGlyphs">0</text>
<text class="t" transform="translate(681.4 774) rotate(-90)" x="-6.5" y="0" textLength="13" lengthAdjust="spacingAndGlyphs">170</text>
<g transform="translate(677.5 787) rotate(-90)"><text class="s" font-size="13.5" x="-5.8" y="4.6" style="stroke:#1c1c1c;stroke-width:.45px">∅</text><line x1="-2.9" y1="6.4" x2="3.6" y2="-6.6" style="stroke-width:1.2"/></g>
<line x1="567" y1="708.3" x2="586" y2="708.3"/>
<line x1="589.5" y1="708.3" x2="593" y2="708.3"/>
<line x1="603" y1="708.3" x2="622" y2="708.3"/>
<line x1="627" y1="708.3" x2="656.5" y2="708.3"/>
<line x1="567" y1="805.8" x2="586" y2="805.8"/>
<line x1="589.5" y1="805.8" x2="594" y2="805.8"/>
<line x1="597.5" y1="805.8" x2="622" y2="805.8"/>
<line x1="627" y1="805.8" x2="656.5" y2="805.8"/>
<line x1="651.5" y1="708.3" x2="651.5" y2="805.8"/>
<path class="ah" d="M651.5 708.3 L653.15 714.5 L649.85 714.5 Z"/>
<path class="ah" d="M651.5 805.8 L649.85 799.6 L653.15 799.6 Z"/>
<text class="t" transform="translate(646.9 728.5) rotate(-90)" x="-6.5" y="0" textLength="13" lengthAdjust="spacingAndGlyphs">100</text>
<g transform="translate(643.3 742) rotate(-90)"><text class="s" font-size="13.5" x="-5.8" y="4.6" style="stroke:#1c1c1c;stroke-width:.45px">∅</text><line x1="-2.9" y1="6.4" x2="3.6" y2="-6.6" style="stroke-width:1.2"/></g>
<text class="g" transform="translate(644.7 781) rotate(-90)" x="-15" y="0" textLength="30" lengthAdjust="spacingAndGlyphs">Hollow aperture</text>
<line x1="517" y1="708.3" x2="567" y2="708.3"/>
<path class="ah" d="M597.2 708.3 L592.2 709.95 L592.2 706.65 Z"/>
<path class="ah" d="M601.7 708.3 L606.7 706.65 L606.7 709.95 Z"/>
<line x1="601.7" y1="708.3" x2="609" y2="708.3"/>
<text class="t" x="521.3" y="704" textLength="17.7" lengthAdjust="spacingAndGlyphs">3.50</text>
<line x1="597.2" y1="701.7" x2="597.2" y2="764.5"/>
<text class="t" x="495.4" y="730.6" textLength="27.5" lengthAdjust="spacingAndGlyphs">2-M2.5</text>
<path d="M538.6 721.9 h11.2 M539.4 722.3 L544.2 732.5 L549 722.3 M544.2 721.9 v10.2" style="stroke-width:0.9;"/>
<text class="t" x="552" y="730.6" textLength="4.2" lengthAdjust="spacingAndGlyphs">5</text>
<path d="M490.4 734 L568.3 734 L597.2 742.2"/>
<path class="ah" d="M597.2 742.2 L590.79 742.09 L591.69 738.92 Z"/>
<line x1="545.9" y1="742.2" x2="599.5" y2="742.2"/>
<line x1="545.9" y1="760.7" x2="599.5" y2="760.7"/>
<line x1="552.6" y1="742.2" x2="552.6" y2="760.7"/>
<path class="ah" d="M552.6 742.2 L554.25 748.4 L550.95 748.4 Z"/>
<path class="ah" d="M552.6 760.7 L550.95 754.5 L554.25 754.5 Z"/>
<text class="t" transform="translate(547.7 751.5) rotate(-90)" x="-4.25" y="0" textLength="8.5" lengthAdjust="spacingAndGlyphs">19</text>
<line x1="594.9" y1="750.7" x2="629" y2="750.7" stroke-dasharray="9 2.5 3 2.5"/>
<path d="M563.8 798.4 L502.4 798.4 L502.4 885.6 L579.4 885.6"/>
<line x1="502.4" y1="802.8" x2="563.8" y2="802.8"/>
<line x1="502.4" y1="882.6" x2="579.4" y2="882.6"/>
<line x1="502.4" y1="888.4" x2="502.4" y2="929.6"/>
<path d="M601.7 787.8 L579.4 787.8 L579.4 885.6"/>
<line x1="563.8" y1="848.2" x2="579.4" y2="848.2"/>
<path d="M579.4 866 L596.7 866 L596.7 848.2 L601 848.2"/>
<line x1="607" y1="834.5" x2="616.5" y2="834.5" style="stroke-width:1.6"/>
<line x1="608.8" y1="834.5" x2="608.8" y2="856" style="stroke-width:1.6"/>
<path d="M602.5 843 L602.5 853 L605.5 853 L605.5 843 L602.5 843"/>
<path d="M611.5 843 L611.5 853 L614.5 853 L614.5 843 L611.5 843"/>
<path d="M597 853 L597 858 L615.5 858 L615.5 853"/>
<path d="M604 853 h9 v5 h-9 Z" style="fill:#151515;stroke-width:0.5;"/>
<line x1="502.4" y1="923.1" x2="563.8" y2="923.1"/>
<path class="ah" d="M502.4 923.1 L508.6 921.45 L508.6 924.75 Z"/>
<path class="ah" d="M563.8 923.1 L557.6 924.75 L557.6 921.45 Z"/>
<line x1="563.8" y1="923.1" x2="622.6" y2="923.1"/>
<path class="ah" d="M563.8 923.1 L570 921.45 L570 924.75 Z"/>
<path class="ah" d="M622.6 923.1 L616.4 924.75 L616.4 921.45 Z"/>
<text class="t" x="524.75" y="919.8" textLength="8.5" lengthAdjust="spacingAndGlyphs">60</text>
<text class="t" x="586.05" y="919.8" textLength="8.5" lengthAdjust="spacingAndGlyphs">60</text>
<line x1="579.4" y1="885.6" x2="579.4" y2="903"/>
<line x1="563.8" y1="896.7" x2="618" y2="896.7"/>
<path class="ah" d="M563.8 896.7 L568.8 895.05 L568.8 898.35 Z"/>
<path class="ah" d="M579.4 896.7 L574.4 898.35 L574.4 895.05 Z"/>
<text class="t" x="583.3" y="893.3" textLength="21.5" lengthAdjust="spacingAndGlyphs">15.60</text>
<path d="M804.5 666.2 A11.8 11.8 0 0 1 816.3 654.4 H986.6 A11.8 11.8 0 0 1 998.4 666.2 V836.6 A11.8 11.8 0 0 1 986.6 848.4 H954.1 A8.5 8.5 0 0 0 945.6 856.9"/>
<path d="M804.5 666.2 V836.6 A11.8 11.8 0 0 0 816.3 848.4 H848.9 A8.5 8.5 0 0 1 857.4 856.9"/>
<path d="M861.6 798.5 L941.4 798.5 L945.6 802.7 L945.6 882.2 L941.4 886.4 L861.6 886.4 L857.4 882.2 L857.4 802.7 Z"/>
<circle cx="902" cy="751" r="48.5"/>
<circle cx="819.4" cy="669.3" r="5"/>
<line x1="811.4" y1="669.3" x2="827.4" y2="669.3" stroke-dasharray="4.6 1 4.8 1 4.6"/>
<line x1="819.4" y1="661.3" x2="819.4" y2="677.3" stroke-dasharray="4.6 1 4.8 1 4.6"/>
<circle cx="983.3" cy="669.3" r="5"/>
<line x1="975.3" y1="669.3" x2="991.3" y2="669.3" stroke-dasharray="4.6 1 4.8 1 4.6"/>
<line x1="983.3" y1="661.3" x2="983.3" y2="677.3" stroke-dasharray="4.6 1 4.8 1 4.6"/>
<circle cx="819.4" cy="833.5" r="5"/>
<line x1="811.4" y1="833.5" x2="827.4" y2="833.5" stroke-dasharray="4.6 1 4.8 1 4.6"/>
<line x1="819.4" y1="825.5" x2="819.4" y2="841.5" stroke-dasharray="4.6 1 4.8 1 4.6"/>
<circle cx="983.3" cy="833.5" r="5"/>
<line x1="975.3" y1="833.5" x2="991.3" y2="833.5" stroke-dasharray="4.6 1 4.8 1 4.6"/>
<line x1="983.3" y1="825.5" x2="983.3" y2="841.5" stroke-dasharray="4.6 1 4.8 1 4.6"/>
<circle cx="988.1" cy="681.2" r="2.7"/>
<line x1="983.3" y1="681.2" x2="992.9" y2="681.2" style="stroke-width:1"/>
<line x1="988.1" y1="676.4" x2="988.1" y2="686" style="stroke-width:1"/>
<circle cx="814.3" cy="820.8" r="2.7"/>
<line x1="809.5" y1="820.8" x2="819.1" y2="820.8" style="stroke-width:1"/>
<line x1="814.3" y1="816" x2="814.3" y2="825.6" style="stroke-width:1"/>
<line x1="902" y1="702.2" x2="902" y2="799.8" stroke-dasharray="14.08 2.6 3.9 2.6 20.42 2.6 5.2 2.6 20.42 2.6 3.9 2.6 14.08"/>
<line x1="853.2" y1="751" x2="950.8" y2="751" stroke-dasharray="14.08 2.6 3.9 2.6 20.42 2.6 5.2 2.6 20.42 2.6 3.9 2.6 14.08"/>
<line x1="779.3" y1="751" x2="853.2" y2="751"/>
<line x1="950.8" y1="751" x2="1054" y2="751"/>
<line x1="814.3" y1="610" x2="814.3" y2="827"/>
<line x1="988.3" y1="610" x2="988.3" y2="685"/>
<line x1="814.3" y1="616.7" x2="988.3" y2="616.7"/>
<path class="ah" d="M814.3 616.7 L820.5 615.05 L820.5 618.35 Z"/>
<path class="ah" d="M988.3 616.7 L982.1 618.35 L982.1 615.05 Z"/>
<text class="t" x="892.05" y="613" textLength="12.5" lengthAdjust="spacingAndGlyphs">180</text>
<line x1="819.4" y1="635" x2="819.4" y2="676"/>
<line x1="983.3" y1="635" x2="983.3" y2="676"/>
<line x1="819.4" y1="642" x2="983.3" y2="642"/>
<path class="ah" d="M819.4 642 L825.6 640.35 L825.6 643.65 Z"/>
<path class="ah" d="M983.3 642 L977.1 643.65 L977.1 640.35 Z"/>
<text class="t" x="892.05" y="638.2" textLength="12.5" lengthAdjust="spacingAndGlyphs">170</text>
<line x1="990" y1="669.3" x2="1054.9" y2="669.3"/>
<line x1="985" y1="681.2" x2="1028.7" y2="681.2"/>
<line x1="1049.5" y1="669.3" x2="1049.5" y2="751"/>
<path class="ah" d="M1049.5 669.3 L1051.15 675.5 L1047.85 675.5 Z"/>
<path class="ah" d="M1049.5 751 L1047.85 744.8 L1051.15 744.8 Z"/>
<text class="t" transform="translate(1045.4 710) rotate(-90)" x="-4.25" y="0" textLength="8.5" lengthAdjust="spacingAndGlyphs">85</text>
<line x1="1022.2" y1="681.2" x2="1022.2" y2="751"/>
<path class="ah" d="M1022.2 681.2 L1023.85 687.4 L1020.55 687.4 Z"/>
<path class="ah" d="M1022.2 751 L1020.55 744.8 L1023.85 744.8 Z"/>
<text class="t" transform="translate(1018.8 719) rotate(-90)" x="-10.5" y="0" textLength="21" lengthAdjust="spacingAndGlyphs">72.50</text>
<line x1="990" y1="833.5" x2="1028.7" y2="833.5"/>
<line x1="1022.2" y1="751" x2="1022.2" y2="833.5"/>
<path class="ah" d="M1022.2 751 L1023.85 757.2 L1020.55 757.2 Z"/>
<path class="ah" d="M1022.2 833.5 L1020.55 827.3 L1023.85 827.3 Z"/>
<text class="t" transform="translate(1018.8 793.5) rotate(-90)" x="-4.25" y="0" textLength="8.5" lengthAdjust="spacingAndGlyphs">85</text>
<line x1="926" y1="843" x2="1054.9" y2="843"/>
<line x1="1049.5" y1="751" x2="1049.5" y2="843"/>
<path class="ah" d="M1049.5 751 L1051.15 757.2 L1047.85 757.2 Z"/>
<path class="ah" d="M1049.5 843 L1047.85 836.8 L1051.15 836.8 Z"/>
<text class="t" transform="translate(1044.2 788.5) rotate(-90)" x="-4.25" y="0" textLength="8.5" lengthAdjust="spacingAndGlyphs">95</text>
<path d="M1052.5 762 Q1059 758.5 1066.5 763" style="stroke-width:1;"/>
<text class="g" transform="translate(1061.2 790.5) rotate(-90)" x="-15" y="0" textLength="30" lengthAdjust="spacingAndGlyphs">Center aperture</text>
<line x1="779.3" y1="820.8" x2="811" y2="820.8"/>
<line x1="786.2" y1="751" x2="786.2" y2="820.8"/>
<path class="ah" d="M786.2 751 L787.85 757.2 L784.55 757.2 Z"/>
<path class="ah" d="M786.2 820.8 L784.55 814.6 L787.85 814.6 Z"/>
<text class="t" transform="translate(781.8 793) rotate(-90)" x="-10.5" y="0" textLength="21" lengthAdjust="spacingAndGlyphs">72.50</text>
<path d="M936.8 843 A34.8 34.8 0 1 0 867.2 843 A34.8 34.8 0 1 0 936.8 843" stroke-dasharray="88 3 4 3" stroke-dashoffset="24.2"/>
<circle cx="902" cy="843" r="25.2"/>
<circle cx="902" cy="843" r="6.4"/>
<circle cx="877.4" cy="818.4" r="2.3" style="fill:#777;"/>
<circle cx="877.4" cy="867.6" r="2.3" style="fill:#777;"/>
<circle cx="926.6" cy="818.4" r="2.3" style="fill:#777;"/>
<circle cx="926.6" cy="867.6" r="2.3" style="fill:#777;"/>
<line x1="902" y1="816" x2="902" y2="871" stroke-dasharray="4.5 2.2"/>
<line x1="873.5" y1="843" x2="926" y2="843" stroke-dasharray="4.5 2.2"/>
<text class="t" x="787.6" y="864.1" textLength="21" lengthAdjust="spacingAndGlyphs">P.C.D</text>
<g transform="translate(826.7 860.2)"><text class="s" font-size="13.5" x="-5.8" y="4.6" style="stroke:#1c1c1c;stroke-width:.45px">∅</text><line x1="-2.9" y1="6.4" x2="3.6" y2="-6.6" style="stroke-width:1.2"/></g>
<text class="t" x="834.5" y="864.1" textLength="8.5" lengthAdjust="spacingAndGlyphs">70</text>
<line x1="783.2" y1="868.3" x2="858" y2="868.3"/>
<line x1="858" y1="868.3" x2="932.17" y2="825.65"/>
<path class="ah" d="M932.17 825.65 L928.3 829.96 L926.5 826.83 Z"/>
<path class="ah" d="M871.83 860.35 L875.7 856.04 L877.5 859.17 Z"/>
<text class="t" x="787.6" y="881.9" textLength="35.6" lengthAdjust="spacingAndGlyphs">4-M4 EQS</text>
<line x1="782.3" y1="885.7" x2="854" y2="885.7" style="stroke-width:2.2"/>
<line x1="858.5" y1="884.5" x2="876.7" y2="867"/>
<path class="ah" d="M877 866.7 L873.78 872.01 L871.57 869.71 Z"/>
<g transform="translate(1018.2 860.2)"><text class="s" font-size="13.5" x="-5.8" y="4.6" style="stroke:#1c1c1c;stroke-width:.45px">∅</text><line x1="-2.9" y1="6.4" x2="3.6" y2="-6.6" style="stroke-width:1.2"/></g>
<text class="t" x="1026" y="864.1" textLength="8" lengthAdjust="spacingAndGlyphs">14</text>
<line x1="951.5" y1="868.3" x2="1043.6" y2="868.3"/>
<line x1="951.5" y1="868.3" x2="896.3" y2="840.09"/>
<path class="ah" d="M896.3 840.09 L902.02 840.99 L900.38 844.19 Z"/>
<path class="ah" d="M907.7 845.91 L901.98 845.01 L903.62 841.81 Z"/>
<g transform="translate(1018.2 878)"><text class="s" font-size="13.5" x="-5.8" y="4.6" style="stroke:#1c1c1c;stroke-width:.45px">∅</text><line x1="-2.9" y1="6.4" x2="3.6" y2="-6.6" style="stroke-width:1.2"/></g>
<text class="t" x="1026" y="881.9" textLength="8.5" lengthAdjust="spacingAndGlyphs">50</text>
<line x1="951.5" y1="886.4" x2="1043.6" y2="886.4"/>
<line x1="951.5" y1="886.4" x2="883.05" y2="826.39"/>
<path class="ah" d="M883.05 826.39 L888.37 828.66 L886 831.37 Z"/>
<path class="ah" d="M920.95 859.61 L915.63 857.34 L918 854.63 Z"/>
<text class="g" x="957.5" y="861.8" textLength="39.5" lengthAdjust="spacingAndGlyphs">Input shaft diameter</text>
<text class="g2" x="961.3" y="880.3" textLength="31" lengthAdjust="spacingAndGlyphs">motor park</text>
<path d="M946.5 852.8 L952.4 852.8" style="stroke-width:0.9;"/>
<path d="M946.5 855.6 L952.4 855.6" style="stroke-width:0.9;"/>
<line x1="857.4" y1="886.4" x2="857.4" y2="917.6"/>
<line x1="945.6" y1="886.4" x2="945.6" y2="917.6"/>
<line x1="857.4" y1="911.6" x2="945.6" y2="911.6"/>
<path class="ah" d="M857.4 911.6 L863.6 909.95 L863.6 913.25 Z"/>
<path class="ah" d="M945.6 911.6 L939.4 913.25 L939.4 909.95 Z"/>
<rect x="888.5" y="899.8" width="8.6" height="8.4" style="fill:none;stroke:#151515;stroke-width:1"/>
<text class="t" x="899.6" y="908.4" textLength="8.5" lengthAdjust="spacingAndGlyphs">90</text>
</svg>
</body></html>
